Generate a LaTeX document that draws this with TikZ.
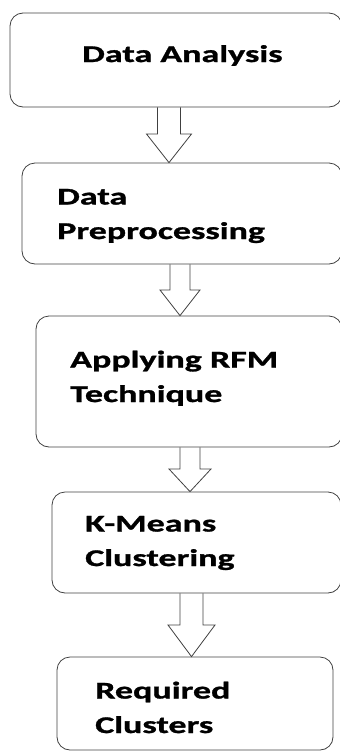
\documentclass[tikz,border=0pt]{standalone}
\usepackage{fontspec}
\setmainfont{Carlito}[FakeStretch=1.5, BoldFont={Carlito Bold}, BoldFeatures={FakeStretch=1.5, FakeBold=1.2}]

% block arrow between two stages: from, to, centre x, shaft half width, head half width, head base y
\newcommand\flowarrow[6]{%
  \draw[flowarr] ({#3-#4},0 |- #1.south) -- ({#3-#4},#6) -- ({#3-#5},#6)
    -- (#3,0 |- #2.north) -- ({#3+#5},#6) -- ({#3+#4},#6) -- ({#3+#4},0 |- #1.south);}

\begin{document}
\begin{tikzpicture}[x=1pt, y=-1pt]
  \tikzset{
    stage/.style = {draw=black!75, line width=0.8pt, rounded corners=13pt, inner sep=0pt},
    label/.style = {anchor=base west, align=left, inner sep=0pt,
                    font=\fontsize{24}{34.5}\selectfont\bfseries},
    flowarr/.style = {draw=black!75, line width=0.8pt, line join=miter}
  }
  \clip (0,0) rectangle (340,755);

  % Stufen
  \node[stage, minimum width=332pt, minimum height=94pt]  (analysis) at (176,60) {};
  \node[stage, minimum width=320pt, minimum height=101pt] (prep)     at (182,213.5) {};
  \node[stage, minimum width=306pt, minimum height=131pt] (rfm)      at (189,381.5) {};
  \node[stage, minimum width=289pt, minimum height=101pt] (kmeans)   at (196.5,542.5) {};
  \node[stage, minimum width=276pt, minimum height=93pt]  (result)   at (195,703.5) {};

  % Texte (Anker auf der letzten Zeile)
  \node[label] (analysistxt) at (82,62)  {Data Analysis};
  \node[label] (preptxt)     at (57,239) {Data\\Preprocessing};
  \node[label] (rfmtxt)      at (70,402) {Applying RFM\\Technique};
  \node[label] (kmeanstxt)   at (85,566) {K-Means\\Clustering};
  \node[label] (resulttxt)   at (95,733) {Required\\Clusters};

  % Pfeile
  \flowarrow{analysis}{prep}{169}{11.5}{22.5}{134}
  \flowarrow{prep}{rfm}{180}{10}{20}{290}
  \flowarrow{rfm}{kmeans}{190}{10}{21}{469}
  \flowarrow{kmeans}{result}{191.5}{11.5}{23.5}{625}
\end{tikzpicture}
\end{document}
